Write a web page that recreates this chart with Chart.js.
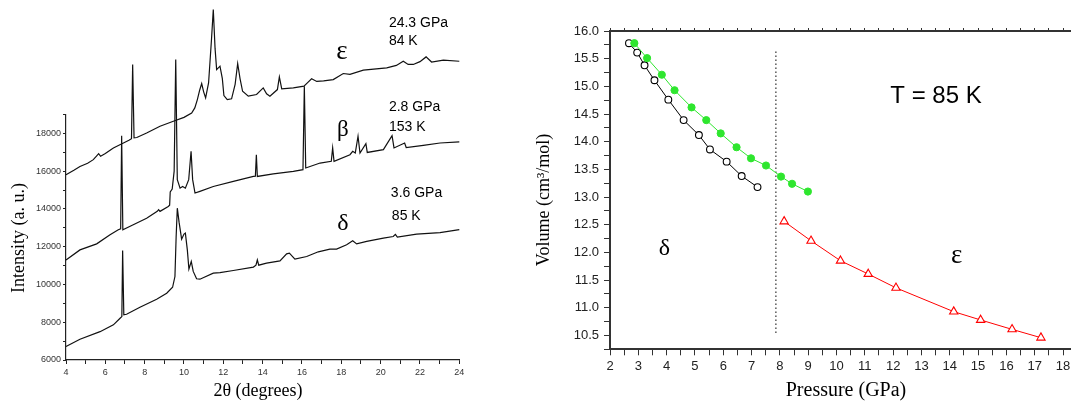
<!DOCTYPE html>
<html lang="en">
<head>
    <meta charset="UTF-8">
    <title>XRD patterns and P-V data</title>
    <script src="https://cdn.jsdelivr.net/npm/chart.js"></script>
    <style>
        body {
            margin: 0;
            background: #fff;
            width: 1076px;
            height: 401px;
            overflow: hidden;
            position: relative;
        }
        .panel { position: absolute; top: 0; }
        #xrdBox { left: 0; }
        #eosBox { left: 520px; }
    </style>
</head>
<body>
    <div class="panel" id="xrdBox"><canvas id="xrdChart" width="500" height="401"></canvas></div>
    <div class="panel" id="eosBox"><canvas id="eosChart" width="556" height="401"></canvas></div>
    <script>
        // ---- left panel: diffraction patterns (2theta in degrees, intensity a.u.) ----
        const epsTheta = [4.00, 4.40, 4.71, 5.10, 5.39, 5.55, 5.66, 5.76, 6.00, 6.41, 6.92, 7.20, 7.33, 7.39, 7.46, 7.60,
            8.10, 8.78, 9.46, 10.00, 10.39, 10.55, 10.68, 10.80, 10.90, 11.00, 11.10, 11.25, 11.40, 11.49, 11.58, 11.66,
            11.83, 11.95, 12.03, 12.20, 12.42, 12.60, 12.73, 12.85, 12.98, 13.27, 13.69, 14.03, 14.20, 14.37, 14.75,
            14.85, 14.97, 15.56, 16.10, 16.30, 16.49, 16.75, 17.10, 17.59, 18.10, 18.44, 19.12, 20.31, 20.80, 21.15,
            21.40, 21.66, 22.00, 22.31, 22.59, 23.19, 24.00];
        const epsInt = [15810, 16050, 16250, 16420, 16610, 16800, 16930, 16790, 16930, 17230, 17490, 17640, 17720, 21650, 17760, 17780,
            18020, 18380, 18640, 18850, 19080, 19350, 19790, 20300, 20640, 20200, 19880, 20670, 23000, 24560, 22500, 21380,
            21560, 20900, 20000, 19790, 19830, 20600, 21700, 20900, 20230, 19970, 20060, 20410, 20100, 19970, 20320,
            20990, 20360, 20410, 20500, 20700, 20890, 20750, 20780, 20850, 21170, 21130, 21350, 21470, 21600, 21820,
            21650, 21650, 21800, 22050, 21780, 21880, 21820];

        const betaTheta = [4.00, 4.71, 5.56, 6.24, 6.66, 6.78, 6.83, 6.89, 7.42, 8.10, 8.64, 8.71, 8.78, 9.20, 9.27, 9.30,
            9.40, 9.50, 9.58, 9.66, 9.80, 9.93, 10.07, 10.24, 10.36, 10.44, 10.56, 10.81, 11.49, 12.51, 13.53, 13.63,
            13.68, 13.73, 14.54, 15.56, 16.05, 16.12, 16.19, 16.92, 17.49, 17.56, 17.63, 18.44, 18.58, 18.71, 18.85,
            18.95, 19.25, 19.32, 20.14, 20.58, 20.68, 21.22, 21.30, 22.17, 23.02, 24.00];
        const betaInt = [11300, 11830, 12150, 12630, 12900, 12950, 17880, 12900, 13160, 13510, 13870, 13960, 13870, 14130, 14200, 14900,
            15050, 16000, 21910, 15550, 15100, 15190, 15100, 15550, 17050, 15550, 14840, 14930, 15190, 15460, 15720, 15730,
            16870, 15720, 15860, 15990, 16080, 20500, 16170, 16430, 16520, 17230, 16520, 16870, 17050, 16960, 17850,
            16960, 17460, 16990, 17140, 17880, 17230, 17490, 17250, 17370, 17490, 17550];

        const deltaTheta = [4.00, 4.71, 5.73, 6.41, 6.75, 6.84, 6.88, 6.94, 7.08, 7.76, 8.61, 9.12, 9.42, 9.54, 9.60, 9.66,
            9.75, 9.88, 10.00, 10.07, 10.17, 10.25, 10.37, 10.47, 10.64, 10.81, 11.49, 11.83, 12.51, 13.53, 13.66, 13.73,
            13.80, 14.20, 14.88, 15.22, 15.36, 15.64, 16.24, 16.83, 17.42, 17.76, 18.27, 18.58, 18.78, 19.29, 20.14,
            20.64, 20.75, 20.85, 21.83, 23.02, 24.00];
        const deltaInt = [6710, 7100, 7500, 7860, 8210, 8300, 11800, 8390, 8420, 8790, 9220, 9540, 9850, 10420, 12500, 14040,
            13300, 12400, 12670, 12720, 11830, 10810, 11220, 10690, 10300, 10280, 10600, 10630, 10740, 10920, 11020, 11300,
            11020, 11130, 11250, 11620, 11660, 11340, 11480, 11730, 11870, 11870, 12100, 12310, 12150, 12280, 12450,
            12540, 12650, 12510, 12670, 12750, 12900];

        // ---- right panel: volume vs pressure at 85 K ----
        const greenP = [2.86, 3.31, 3.83, 4.28, 4.88, 5.40, 5.91, 6.47, 6.98, 7.51, 8.04, 8.43, 8.99];
        const greenV = [15.78, 15.51, 15.21, 14.93, 14.62, 14.39, 14.15, 13.90, 13.70, 13.57, 13.37, 13.24, 13.10];
        const blackP = [2.67, 2.96, 3.22, 3.57, 4.06, 4.60, 5.14, 5.53, 6.12, 6.65, 7.21];
        const blackV = [15.78, 15.61, 15.38, 15.11, 14.76, 14.39, 14.12, 13.86, 13.64, 13.38, 13.18];
        const redP = [8.15, 9.10, 10.14, 11.12, 12.10, 14.14, 15.09, 16.20, 17.22];
        const redV = [12.56, 12.21, 11.85, 11.61, 11.36, 10.93, 10.78, 10.61, 10.46];
        const boundaryP = [7.86, 7.86];
        const boundaryV = [15.63, 10.54];

        const toPts = (xs, ys) => xs.map((x, i) => ({ x: x, y: ys[i] }));

        // text drawn at data positions, axis titles at pixel positions
        function notesPlugin(id, notes, titles) {
            return {
                id: id,
                afterDraw(chart) {
                    const ctx = chart.ctx;
                    const sx = chart.scales.x, sy = chart.scales.y;
                    ctx.save();
                    ctx.fillStyle = '#000';
                    ctx.textBaseline = 'middle';
                    notes.forEach(n => {
                        ctx.font = n.font;
                        ctx.textAlign = n.align || 'left';
                        ctx.fillText(n.text, sx.getPixelForValue(n.x), sy.getPixelForValue(n.y));
                    });
                    titles.forEach(t => {
                        ctx.save();
                        ctx.font = t.font;
                        ctx.textAlign = 'center';
                        ctx.translate(t.px, t.py);
                        if (t.rot) ctx.rotate(t.rot);
                        ctx.fillText(t.text, 0, 0);
                        ctx.restore();
                    });
                    ctx.restore();
                }
            };
        }

        const sans14 = '14px "Liberation Sans", Arial, sans-serif';
        const xrdNotes = [
            { text: '24.3 GPa', x: 20.42, y: 23825, font: sans14 },
            { text: '84 K', x: 20.42, y: 22870, font: sans14 },
            { text: 'ε', x: 18.03, y: 22290, font: '27px "Liberation Serif", serif', align: 'center' },
            { text: '2.8 GPa', x: 20.42, y: 19370, font: sans14 },
            { text: '153 K', x: 20.42, y: 18310, font: sans14 },
            { text: 'β', x: 18.08, y: 18200, font: '23px "Liberation Serif", serif', align: 'center' },
            { text: '3.6 GPa', x: 20.52, y: 14810, font: sans14 },
            { text: '85 K', x: 20.57, y: 13640, font: sans14 },
            { text: 'δ', x: 18.08, y: 13210, font: '24px "Liberation Serif", serif', align: 'center' }
        ];
        const xrdTitles = [
            { text: 'Intensity (a. u.)', px: 19, py: 238, rot: -Math.PI / 2, font: '18px "Liberation Serif", serif' },
            { text: '2θ (degrees)', px: 258, py: 391, font: '18px "Liberation Serif", serif' }
        ];

        const eosNotes = [
            { text: 'T = 85 K', x: 11.90, y: 14.81, font: '24px "Liberation Sans", Arial, sans-serif' },
            { text: 'δ', x: 3.92, y: 12.06, font: '24px "Liberation Serif", serif', align: 'center' },
            { text: 'ε', x: 14.24, y: 11.94, font: '27px "Liberation Serif", serif', align: 'center' }
        ];
        const eosTitles = [
            { text: 'Volume (cm³/mol)', px: 24, py: 200, rot: -Math.PI / 2, font: '18px "Liberation Serif", serif' },
            { text: 'Pressure (GPa)', px: 326, py: 391, font: '20px "Liberation Serif", serif' }
        ];

        const traceStyle = { borderColor: '#111', borderWidth: 1.2, pointRadius: 0, tension: 0, clip: false };

        new Chart(document.getElementById('xrdChart'), {
            type: 'line',
            data: {
                datasets: [
                    Object.assign({ label: 'epsilon', data: toPts(epsTheta, epsInt) }, traceStyle),
                    Object.assign({ label: 'beta', data: toPts(betaTheta, betaInt) }, traceStyle),
                    Object.assign({ label: 'delta', data: toPts(deltaTheta, deltaInt) }, traceStyle)
                ]
            },
            options: {
                responsive: false,
                animation: false,
                layout: { padding: { top: 114.5, right: 40.7, left: 0, bottom: 0 } },
                plugins: { legend: { display: false }, tooltip: { enabled: false } },
                scales: {
                    x: {
                        type: 'linear', min: 4, max: 24,
                        ticks: {
                            stepSize: 1, autoSkip: false, maxRotation: 0, padding: 3, color: '#333',
                            font: { family: '"Liberation Sans", Arial', size: 9 },
                            callback: v => (v % 2 === 0 ? v : '')
                        },
                        grid: { drawOnChartArea: false, tickLength: 4, color: '#222' },
                        border: { color: '#222', width: 1.2 },
                        afterFit: s => { s.height = 41; }
                    },
                    y: {
                        type: 'linear', min: 6000, max: 19000,
                        ticks: {
                            stepSize: 1000, autoSkip: false, padding: 2, color: '#333',
                            font: { family: '"Liberation Sans", Arial', size: 9 },
                            callback: v => (v % 2000 === 0 && v <= 18000 ? v : '')
                        },
                        grid: { drawOnChartArea: false, tickLength: 3, color: '#222' },
                        border: { color: '#222', width: 1.2 },
                        afterFit: s => { s.width = 66; }
                    }
                }
            },
            plugins: [notesPlugin('xrdNotes', xrdNotes, xrdTitles)]
        });

        new Chart(document.getElementById('eosChart'), {
            type: 'line',
            data: {
                datasets: [
                    {
                        label: 'green', data: toPts(greenP, greenV),
                        borderColor: '#2ee62e', borderWidth: 1, pointRadius: 3.6,
                        pointBackgroundColor: '#2ee62e', pointBorderColor: '#2ee62e', tension: 0
                    },
                    {
                        label: 'delta', data: toPts(blackP, blackV),
                        borderColor: '#000', borderWidth: 1, pointRadius: 3.4, pointBorderWidth: 1.1,
                        pointBackgroundColor: '#fff', pointBorderColor: '#000', tension: 0
                    },
                    {
                        label: 'epsilon', data: toPts(redP, redV),
                        borderColor: '#ff0000', borderWidth: 1, pointStyle: 'triangle', pointRadius: 4.8,
                        pointBorderWidth: 1.1, pointBackgroundColor: '#fff', pointBorderColor: '#ff0000', tension: 0
                    },
                    {
                        label: 'boundary', data: toPts(boundaryP, boundaryV),
                        borderColor: '#000', borderWidth: 1, borderDash: [1.5, 2.5], pointRadius: 0
                    }
                ]
            },
            options: {
                responsive: false,
                animation: false,
                layout: { padding: { top: 31, right: 0, left: 0, bottom: 0 } },
                plugins: { legend: { display: false }, tooltip: { enabled: false } },
                scales: {
                    x: {
                        type: 'linear', min: 2, max: 18.25,
                        ticks: {
                            stepSize: 0.5, includeBounds: false, autoSkip: false, maxRotation: 0, padding: 3,
                            color: '#222', font: { family: '"Liberation Sans", Arial', size: 13 },
                            callback: v => (Number.isInteger(v) ? v : '')
                        },
                        grid: { drawOnChartArea: false, tickLength: 6, color: '#333' },
                        border: { color: '#333', width: 2 },
                        afterFit: s => { s.height = 51.7; }
                    },
                    x2: {
                        type: 'linear', position: 'top', min: 2, max: 18.25,
                        ticks: { stepSize: 0.5, includeBounds: false, display: false },
                        grid: { drawOnChartArea: false, tickLength: 3, color: '#333' },
                        border: { color: '#333', width: 2 },
                        afterFit: s => { s.height = 0; }
                    },
                    y: {
                        type: 'linear', min: 10.25, max: 16,
                        ticks: {
                            stepSize: 0.25, autoSkip: false, padding: 5, color: '#222',
                            font: { family: '"Liberation Sans", Arial', size: 13 },
                            callback: v => (Math.round(v * 4) % 2 === 0 ? v.toFixed(1) : '')
                        },
                        grid: { drawOnChartArea: false, tickLength: 6, color: '#333' },
                        border: { color: '#333', width: 2 },
                        afterFit: s => { s.width = 90; }
                    }
                }
            },
            plugins: [notesPlugin('eosNotes', eosNotes, eosTitles)]
        });
    </script>
</body>
</html>
